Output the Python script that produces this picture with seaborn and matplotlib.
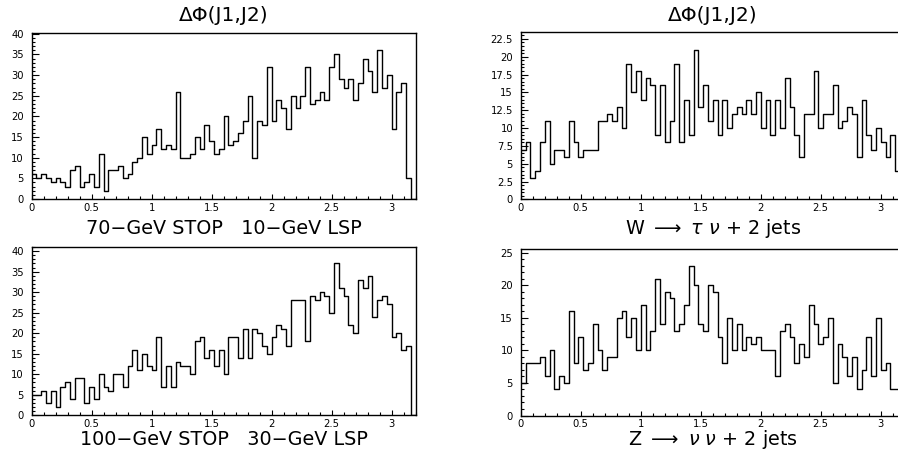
import numpy as np
import pandas as pd
import matplotlib
matplotlib.use("Agg")
import matplotlib.pyplot as plt
from matplotlib.ticker import MultipleLocator, FuncFormatter
import seaborn as sns

# ---------------- data (counts per bin of width 0.04 on [0, 3.2]) ----------------
bin_width = 0.04
n_bins = 80

stop70_lsp10 = [6, 5, 6, 5, 4, 5, 4, 3, 7, 8, 3, 4, 6, 3, 11, 2, 7, 7, 8, 5,
                6, 9, 10, 15, 11, 13, 17, 12, 13, 12, 26, 10, 10, 11, 15, 12, 18, 14, 11, 12,
                20, 13, 14, 16, 19, 25, 10, 19, 18, 32, 19, 24, 22, 17, 25, 22, 25, 32, 23, 24,
                26, 24, 32, 35, 29, 27, 29, 24, 28, 34, 31, 26, 36, 27, 30, 17, 26, 28, 5, 0]

w_taunu = [7, 8, 3, 4, 8, 11, 5, 7, 7, 6, 11, 8, 6, 7, 7, 7, 11, 11, 12, 11,
           13, 10, 19, 15, 18, 14, 17, 16, 9, 16, 8, 11, 19, 8, 14, 9, 21, 13, 16, 11,
           14, 9, 14, 10, 12, 13, 12, 14, 12, 15, 10, 14, 9, 14, 10, 17, 13, 9, 6, 12,
           12, 18, 10, 12, 12, 16, 10, 11, 13, 12, 6, 14, 9, 7, 10, 8, 6, 9, 4, 0]

stop100_lsp30 = [5, 5, 6, 3, 6, 2, 7, 8, 4, 9, 9, 3, 7, 4, 10, 7, 6, 10, 10, 7,
                 12, 16, 11, 15, 12, 11, 19, 7, 12, 7, 13, 12, 12, 10, 18, 19, 14, 16, 12, 16,
                 10, 19, 19, 14, 21, 14, 21, 20, 17, 15, 19, 22, 21, 17, 28, 28, 28, 18, 29, 28,
                 30, 29, 25, 37, 31, 29, 22, 20, 33, 31, 34, 24, 28, 29, 27, 19, 20, 16, 17, 0]

z_nunu = [5, 8, 8, 8, 9, 6, 10, 4, 6, 5, 16, 8, 12, 7, 8, 14, 10, 7, 9, 9,
          15, 16, 12, 15, 10, 17, 10, 13, 21, 14, 19, 18, 13, 14, 17, 23, 20, 14, 13, 20,
          19, 12, 8, 15, 10, 14, 10, 12, 11, 12, 10, 10, 10, 6, 13, 14, 12, 8, 11, 9,
          17, 14, 11, 12, 15, 5, 11, 9, 6, 9, 4, 7, 12, 6, 15, 7, 8, 4, 4, 0]

title_text = "ΔΦ(J1,J2)"
labels = ["70−GeV STOP   10−GeV LSP",
          r"W $\longrightarrow$ $\tau$ $\nu$ + 2 jets",
          "100−GeV STOP   30−GeV LSP",
          r"Z $\longrightarrow$ $\nu$ $\nu$ + 2 jets"]

# ---------------- style ----------------
sns.set_style("white")
plt.rcParams["font.family"] = ["DejaVu Sans"]
plt.rcParams["mathtext.fontset"] = "dejavusans"

W, H = 898, 458
fig = plt.figure(figsize=(W / 100, H / 100), dpi=100)

def px_axes(left, top, right, bottom):
    return fig.add_axes([left / W, 1 - bottom / H, (right - left) / W, (bottom - top) / H])

panels = [
    dict(counts=stop70_lsp10, box=(31.5, 33.0, 415.7, 199.0), ymax=40.2, major=5, minor=1, base=234.0),
    dict(counts=w_taunu, box=(520.7, 32.5, 904.7, 199.5), ymax=23.4, major=2.5, minor=0.5, base=234.0),
    dict(counts=stop100_lsp30, box=(31.5, 247.0, 415.7, 415.3), ymax=41.0, major=5, minor=1, base=445.0),
    dict(counts=z_nunu, box=(520.7, 249.0, 904.7, 415.5), ymax=25.6, major=5, minor=1, base=445.0),
]

centers = (np.arange(n_bins) + 0.5) * bin_width
fmt = FuncFormatter(lambda v, p: "%g" % v)

for i, p in enumerate(panels):
    ax = px_axes(*p["box"])
    df = pd.DataFrame({"dphi": centers, "n": np.asarray(p["counts"], dtype=float)})
    sns.histplot(data=df, x="dphi", weights="n", binwidth=bin_width,
                 binrange=(0, n_bins * bin_width), element="step",
                 fill=False, color="black", linewidth=1.0, ax=ax)
    ax.set_xlim(0, 3.2)
    ax.set_ylim(0, p["ymax"])
    ax.set_xlabel("")
    ax.set_ylabel("")
    ax.xaxis.set_major_locator(MultipleLocator(0.5))
    ax.xaxis.set_minor_locator(MultipleLocator(0.1))
    ax.yaxis.set_major_locator(MultipleLocator(p["major"]))
    ax.yaxis.set_minor_locator(MultipleLocator(p["minor"]))
    ax.xaxis.set_major_formatter(fmt)
    ax.yaxis.set_major_formatter(fmt)
    ax.tick_params(axis="both", which="both", direction="in", top=False, right=False,
                   bottom=True, left=True, colors="black", labelsize=7.2, width=0.8)
    ax.tick_params(axis="x", which="major", length=3.8, pad=2.6)
    ax.tick_params(axis="x", which="minor", length=1.9)
    ax.tick_params(axis="y", which="major", length=4.8, pad=5.5)
    ax.tick_params(axis="y", which="minor", length=2.5)
    for s in ax.spines.values():
        s.set_color("black")
        s.set_linewidth(1.0)
    cx = (p["box"][0] + p["box"][2]) / 2 / W
    fig.text(cx, 1 - p["base"] / H, labels[i], ha="center", va="baseline",
             fontsize=13.8, color="black")
    if i < 2:
        fig.text(cx, 1 - 20.7 / H, title_text, ha="center", va="baseline",
                 fontsize=14.5, color="black")

fig.savefig("out.png", dpi=100, facecolor="white")
